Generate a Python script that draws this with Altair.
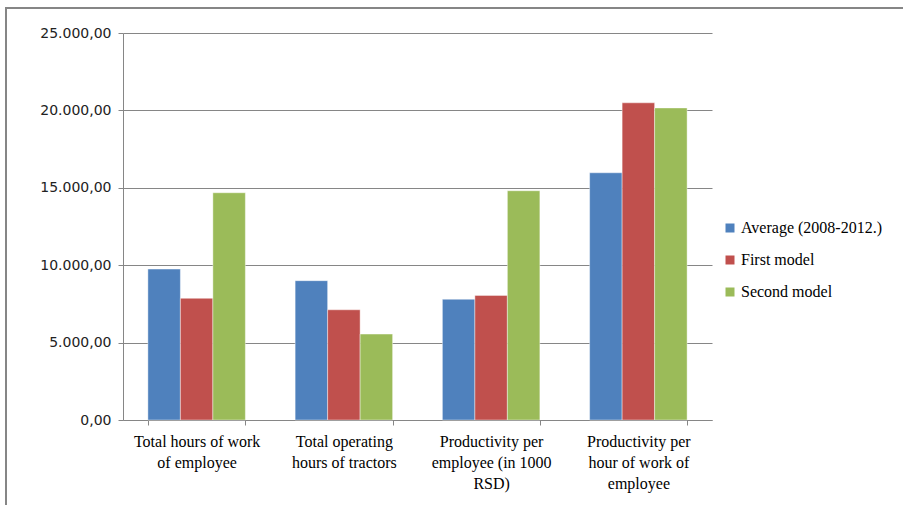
import altair as alt
import pandas as pd

categories = [
    "Total hours of work\nof employee",
    "Total operating\nhours of tractors",
    "Productivity per\nemployee (in 1000\nRSD)",
    "Productivity per\nhour of work of\nemployee",
]
series = ["Average (2008-2012.)", "First model", "Second model"]
average = [9750, 9000, 7800, 15970]
first_model = [7860, 7120, 8050, 20490]
second_model = [14680, 5550, 14810, 20160]
colors = ["#4F81BD", "#C0504D", "#9BBB59"]
y_ticks = [0, 5000, 10000, 15000, 20000, 25000]

rows = []
for s, vals in zip(series, [average, first_model, second_model]):
    for c, v in zip(categories, vals):
        rows.append({"category": c, "series": s, "value": v})
df = pd.DataFrame(rows)

grid_col = "#868686"

bars = alt.Chart(df).mark_bar(stroke="#ffffff", strokeWidth=0.6, strokeOpacity=0.7).encode(
    x=alt.X(
        "category:N",
        sort=categories,
        scale=alt.Scale(paddingInner=0.338, paddingOuter=0.169),
        axis=alt.Axis(
            title=None,
            labelAngle=0,
            labelExpr="split(datum.label, '\\n')",
            tickBand="extent",
            labelFont="Liberation Serif",
            labelFontSize=16,
            labelLineHeight=21,
            labelColor="#000000",
            labelPadding=8,
            labelBaseline="top",
            domainColor=grid_col,
            tickColor=grid_col,
            tickSize=5,
        ),
    ),
    xOffset=alt.XOffset("series:N", sort=series),
    y=alt.Y(
        "value:Q",
        scale=alt.Scale(domain=[0, 25000], nice=False),
        axis=alt.Axis(
            title=None,
            values=y_ticks,
            grid=True,
            gridColor=grid_col,
            domainColor=grid_col,
            tickColor=grid_col,
            tickSize=5,
            labelFont="DejaVu Sans",
            labelFontSize=14,
            labelColor="#222222",
            labelPadding=7,
            labelExpr="replace(replace(replace(format(datum.value, ',.2f'), ',', '#'), '.', ','), '#', '.')",
        ),
    ),
    color=alt.Color(
        "series:N",
        sort=series,
        scale=alt.Scale(domain=series, range=colors),
        legend=alt.Legend(
            title=None,
            orient="none",
            legendX=599,
            legendY=187,
            symbolType="square",
            symbolSize=81,
            symbolStrokeWidth=0,
            labelFont="Liberation Serif",
            labelFontSize=16,
            labelColor="#000000",
            labelOffset=3,
            rowPadding=16,
        ),
    ),
)

one = pd.DataFrame({"a": [0]})
border_left = alt.Chart(one).mark_rule(color=grid_col, strokeWidth=2).encode(
    x=alt.value(-117), y=alt.value(-25), y2=alt.value(480)
)
border_top = alt.Chart(one).mark_rule(color=grid_col, strokeWidth=2).encode(
    x=alt.value(-118), x2=alt.value(800), y=alt.value(-25)
)

chart = alt.layer(bars, border_left, border_top).properties(
    width=589,
    height=387,
    autosize=alt.AutoSizeParams(type="none"),
    padding={"left": 123, "top": 33, "right": 191, "bottom": 85},
    background="#ffffff",
).configure_view(stroke=None)

chart.save("out.html", embed_options={"renderer": "svg", "actions": False})
